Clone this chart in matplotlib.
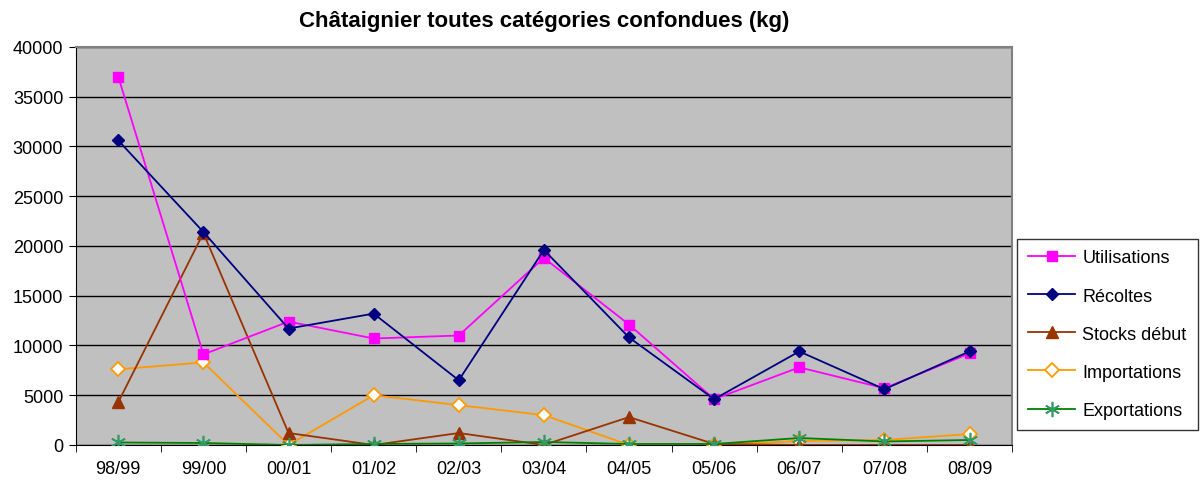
import matplotlib
matplotlib.use("Agg")
import matplotlib.pyplot as plt
from matplotlib.ticker import FixedLocator, NullFormatter

plt.rcParams['font.family'] = ['Liberation Sans', 'DejaVu Sans']

# données (kg)
saisons = ["98/99", "99/00", "00/01", "01/02", "02/03", "03/04",
           "04/05", "05/06", "06/07", "07/08", "08/09"]
utilisations = [37000, 9100, 12400, 10700, 11000, 18800, 12100, 4600, 7800, 5700, 9200]
recoltes = [30600, 21400, 11700, 13200, 6500, 19600, 10800, 4600, 9400, 5600, 9400]
stocks_debut = [4300, 21300, 1200, 0, 1200, 0, 2800, 100, 0, 0, 0]
importations = [7600, 8300, 0, 5000, 4000, 3000, 0, 0, 400, 500, 1100]
exportations = [250, 200, 0, 100, 150, 300, 100, 100, 700, 350, 500]

fig = plt.figure(figsize=(12.02, 4.89), dpi=100)
ax = fig.add_axes([0.063, 0.088, 0.779, 0.814])
ax.set_facecolor("#C0C0C0")

x = list(range(len(saisons)))
ax.plot(x, utilisations, color="#FF00FF", marker="s", ms=7, lw=1.3,
        label="Utilisations", zorder=5)
ax.plot(x, recoltes, color="#000080", marker="D", ms=6.5, lw=1.3,
        label="Récoltes", zorder=6)
ax.plot(x, stocks_debut, color="#993300", marker="^", ms=8, lw=1.3,
        label="Stocks début", zorder=4)
ax.plot(x, importations, color="#FF9900", marker="D", ms=7, lw=1.3,
        mfc="white", mec="#FF9900", mew=1.3, label="Importations", zorder=3)
ax.plot(x, exportations, color="#008000", marker=(6, 2, 0), ms=11, lw=1.3,
        mec="#339966", mew=1.2, label="Exportations", zorder=7)

ax.set_xlim(-0.5, len(saisons) - 0.5)
ax.set_ylim(0, 40000)
ax.set_yticks(range(0, 40001, 5000))
ax.yaxis.grid(True, color="black", lw=1)
ax.set_axisbelow(True)

ax.set_xticks(x)
ax.set_xticklabels(saisons)
ax.xaxis.set_minor_locator(FixedLocator([i - 0.5 for i in range(len(saisons) + 1)]))
ax.xaxis.set_minor_formatter(NullFormatter())
ax.tick_params(axis="x", which="major", length=0, pad=11, labelsize=13)
ax.tick_params(axis="x", which="minor", length=5, color="black")
ax.tick_params(axis="y", length=5, labelsize=13, color="black", pad=4)

for side in ["top", "right"]:
    ax.spines[side].set_color("#808080")
    ax.spines[side].set_linewidth(1.5)
ax.spines["left"].set_color("black")
ax.spines["bottom"].set_color("black")

ax.set_title("Châtaignier toutes catégories confondues (kg)", fontsize=16,
             fontweight="bold", pad=15)

leg = fig.legend(loc="upper left", bbox_to_anchor=(0.8465, 0.51), fontsize=13,
                 frameon=True, fancybox=False, edgecolor="black",
                 handlelength=2.6, labelspacing=1.17, borderpad=0.6,
                 handletextpad=0.4, borderaxespad=0)
leg.get_frame().set_linewidth(1.0)

fig.savefig("out.png", dpi=100)
